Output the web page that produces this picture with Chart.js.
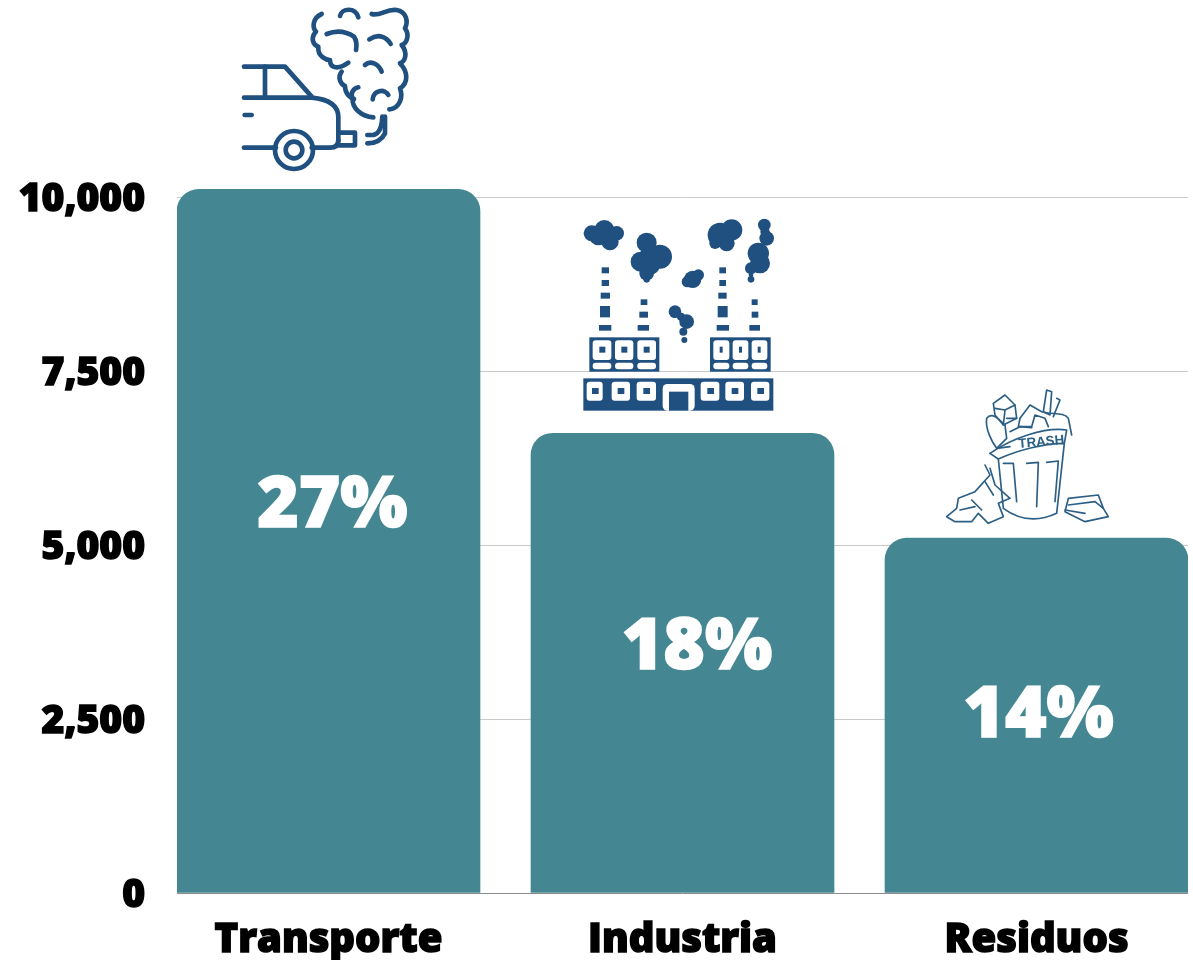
<!DOCTYPE html>
<html>
<head>
<meta charset="utf-8">
<script src="https://cdn.jsdelivr.net/npm/chart.js@4"></script>
<style>
  html, body { margin: 0; padding: 0; background: #fff; }
  canvas { display: block; }
</style>
</head>
<body>
<canvas id="chart" width="1193" height="960"></canvas>
<script>
const categories = ["Transporte", "Industria", "Residuos"];
const emissions = [10115, 6609, 5100];
const shareLabels = ["27%", "18%", "14%"];
// where the percentages sit, in axis units (they are not centred on the bars)
const shareX = [0.011, 0.041, 0.006];
const shareY = [5546, 3506, 2529];
const yTicks = [0, 2500, 5000, 7500, 10000];

const TEAL = "#448792";
const NAVY = "#1f5080";
const FONT = '"Open Sans", sans-serif';

// icons are drawn in the coordinates they were measured in, 3 units = 1px
function drawCar(c) {
    c.strokeStyle = NAVY;
    c.lineWidth = 14;
    c.lineCap = "round";
    c.lineJoin = "round";
    const paths = [
        "M42 200 H165 L245 290",
        "M42 293 H245 C290 297 325 312 325 352 V425",
        "M105 200 V293",
        "M44 345 H65",
        "M42 443 H138",
        "M245 443 H300 Q325 443 325 420",
        "M325 398 H375 V436 H325",
        "M412 405 H430 Q455 400 457 350",
        "M412 430 Q450 430 465 400 V350",
        "M275 42 C245 55 248 85 258 95 C240 115 250 135 265 140 C262 170 290 180 300 180 C300 205 325 210 355 188",
        "M335 215 C320 235 335 255 345 258 C345 285 365 295 372 297",
        "M385 262 C370 265 360 280 368 295 C365 325 395 350 430 352",
        "M425 42 C450 50 470 25 500 30 C530 35 535 65 525 85 C540 105 530 130 515 135 C535 160 525 185 510 190 C535 215 535 250 510 265 C520 290 510 325 478 328",
        "M330 48 C335 25 375 20 385 52",
        "M290 102 C320 90 350 95 372 110 C382 125 380 140 378 150",
        "M418 118 C445 100 470 110 482 132",
        "M405 195 C420 180 445 190 455 215",
        "M428 298 C430 270 465 265 475 285"
    ];
    paths.forEach(p => c.stroke(new Path2D(p)));
    c.beginPath();
    c.arc(192, 450, 57, 0, Math.PI * 2);
    c.stroke();
    c.beginPath();
    c.arc(192, 450, 25, 0, Math.PI * 2);
    c.stroke();
}

function rects(c, list, color) {
    c.fillStyle = color;
    list.forEach(r => c.fillRect(r[0], r[1], r[2] - r[0], r[3] - r[1]));
}

function roundBoxes(c, list, color, rad) {
    c.fillStyle = color;
    list.forEach(r => {
        c.beginPath();
        c.roundRect(r[0], r[1], r[2] - r[0], r[3] - r[1], rad);
        c.fill();
    });
}

function drawFactory(c) {
    // smoke
    const puffs = [
        [103,60,30],[65,70,24],[140,70,22],[120,95,26],[85,78,28],
        [230,98,30],[270,140,36],[212,155,30],[240,165,30],[230,190,22],[230,208,10],[238,125,26],
        [368,208,26],[385,195,17],[352,215,17],
        [315,305,19],[333,320,12],[350,335,22],[340,365,12],[343,390,9],
        [450,75,37],[485,60,32],[470,100,24],[435,100,17],
        [583,45,19],[585,65,14],[590,85,22],[565,130,32],[570,160,30],[543,175,18],[543,195,7],[543,208,10]
    ];
    c.fillStyle = NAVY;
    puffs.forEach(p => {
        c.beginPath();
        c.arc(p[0], p[1], p[2], 0, Math.PI * 2);
        c.fill();
    });
    // chimneys
    rects(c, [
        [95,172,117,190],[95,210,117,228],[92,248,120,266],[90,288,120,322],[87,345,124,362],
        [212,268,232,285],[208,305,234,323],[203,345,237,362],
        [448,172,468,190],[448,210,468,228],[445,248,470,266],[443,288,473,322],[440,345,477,362],
        [545,268,563,285],[545,305,565,323],[538,345,570,362]
    ], NAVY);
    // buildings
    rects(c, [[58,382,268,485],[420,382,602,485],[40,505,610,602]], NAVY);
    roundBoxes(c, [
        [68,391,124,450],[135,391,190,450],[202,391,258,450],
        [430,391,478,450],[488,391,535,450],[545,391,592,450],
        [68,458,124,478],[135,458,190,478],[202,458,258,478],
        [430,458,478,478],[488,458,535,478],[545,458,592,478],
        [50,515,98,572],[125,515,180,572],[200,515,258,572],
        [392,515,448,572],[466,515,522,572],[543,515,598,572]
    ], "#fff", 9);
    roundBoxes(c, [[278,522,374,602]], "#fff", 14);
    rects(c, [
        [88,410,106,428],[154,410,172,428],[221,410,239,428],
        [449,410,458,428],[507,410,516,428],[563,410,572,428],
        [66,534,86,552],[143,534,163,552],[220,534,240,552],
        [412,534,432,552],[485,534,505,552],[562,534,582,552],
        [297,545,355,602]
    ], NAVY);
}

function drawTrash(c) {
    c.strokeStyle = "#2c5f85";
    c.fillStyle = "#fff";
    c.lineWidth = 5;
    c.lineCap = "round";
    c.lineJoin = "round";
    const body = new Path2D("M190 222 L205 370 Q280 425 365 385 L388 175 C330 175 250 195 190 222 Z");
    c.fill(body);
    c.stroke(body);
    const paths = [
        "M165 205 C230 160 330 125 395 135 L388 175",
        "M165 205 L190 222",
        "M205 235 H235 L245 350",
        "M275 235 L310 232 L305 365",
        "M335 232 L370 228 L360 350",
        "M175 55 L210 30 L240 60 L245 100 L205 120 L180 90 Z",
        "M180 70 L210 75 L240 60 M210 75 L205 120",
        "M155 100 C170 80 190 100 210 120 L215 160 L185 190 C170 170 150 130 155 100",
        "M185 190 L225 185",
        "M335 15 L350 20 L345 90 L325 80 Z",
        "M365 40 L375 45 L355 95",
        "M255 100 L285 60 L320 80 C350 90 385 80 400 100 L410 150",
        "M255 100 L250 125 L290 125 L300 90 L330 100 L340 125",
        "M245 100 L215 100 M225 140 L255 125 L290 128",
        "M150 240 L165 270 L120 320 L70 340 L65 370 L35 395 L60 410 L110 410 L130 385 L160 415 L205 395 L190 355 L225 340 L180 300 L165 250",
        "M110 345 L140 375 M75 375 L120 365 M150 290 L175 330",
        "M400 340 L490 330 L505 370 L520 395 L450 410 L390 380 Z",
        "M400 360 L480 350 M390 375 L450 385 M480 350 L505 370"
    ];
    paths.forEach(p => c.stroke(new Path2D(p)));
    c.save();
    c.translate(320, 183);
    c.rotate(-0.09);
    c.fillStyle = "#2c5f85";
    c.font = '700 40px "Liberation Sans", sans-serif';
    c.textAlign = "center";
    c.fillText("TRASH", 0, 0);
    c.restore();
}

// origin of each icon on the page, lined up with its bar
const icons = [
    { draw: drawCar, x: 230, y: 0 },
    { draw: drawFactory, x: 570, y: 210 },
    { draw: drawTrash, x: 935, y: 385 }
];

const overlayPlugin = {
    id: "overlay",
    afterDatasetsDraw(chart) {
        const { ctx, scales } = chart;
        shareLabels.forEach((label, i) => {
            ctx.save();
            ctx.fillStyle = "#fff";
            ctx.strokeStyle = "#fff";
            ctx.lineWidth = 1.5;
            ctx.font = `800 71px ${FONT}`;
            ctx.textAlign = "center";
            ctx.textBaseline = "middle";
            const px = scales.x.getPixelForValue(i + shareX[i]);
            const py = scales.y.getPixelForValue(shareY[i]);
            ctx.fillText(label, px, py);
            ctx.strokeText(label, px, py);
            ctx.restore();
        });
    },
    afterDraw(chart) {
        const { ctx } = chart;
        icons.forEach(icon => {
            ctx.save();
            ctx.translate(icon.x, icon.y);
            ctx.scale(1 / 3, 1 / 3);
            ctx.filter = "blur(0.6px)";
            icon.draw(ctx);
            ctx.restore();
        });
    }
};

new Chart(document.getElementById("chart"), {
    type: "bar",
    plugins: [overlayPlugin],
    data: {
        datasets: [{
            data: emissions.map((v, i) => ({ x: i, y: v })),
            backgroundColor: TEAL,
            borderRadius: { topLeft: 22, topRight: 22, bottomLeft: 0, bottomRight: 0 },
            borderSkipped: "bottom",
            barThickness: 303
        }]
    },
    options: {
        responsive: false,
        animation: false,
        layout: { autoPadding: false, padding: { top: 0, right: 5, bottom: 0, left: 0 } },
        plugins: { legend: { display: false }, tooltip: { enabled: false } },
        scales: {
            x: {
                type: "linear",
                offset: false,
                min: -0.428,
                max: 2.428,
                // linear so the outer bars can sit flush with the ends of the gridlines
                afterBuildTicks: axis => { axis.ticks = categories.map((_, i) => ({ value: i })); },
                afterFit: axis => { axis.height = 67; },
                grid: { display: false },
                border: { display: false },
                ticks: {
                    autoSkip: false,
                    maxRotation: 0,
                    padding: 16,
                    color: "#000",
                    textStrokeColor: "#000",
                    textStrokeWidth: 1.5,
                    font: { family: FONT, size: 40, weight: 800 },
                    callback: v => categories[v]
                }
            },
            y: {
                min: 0,
                max: 12040,
                afterBuildTicks: axis => { axis.ticks = yTicks.map(value => ({ value })); },
                afterFit: axis => { axis.width = 177; },
                grid: {
                    drawTicks: false,
                    color: ctx => ctx.tick.value === 0 ? "#8c8c8c" : "#c9c9c9"
                },
                border: { display: false },
                ticks: {
                    padding: 32,
                    labelOffset: 3,
                    color: "#000",
                    textStrokeColor: "#000",
                    textStrokeWidth: 1.5,
                    font: { family: FONT, size: 39, weight: 800 },
                    callback: v => v.toLocaleString("en-US")
                }
            }
        }
    }
});
</script>
</body>
</html>
